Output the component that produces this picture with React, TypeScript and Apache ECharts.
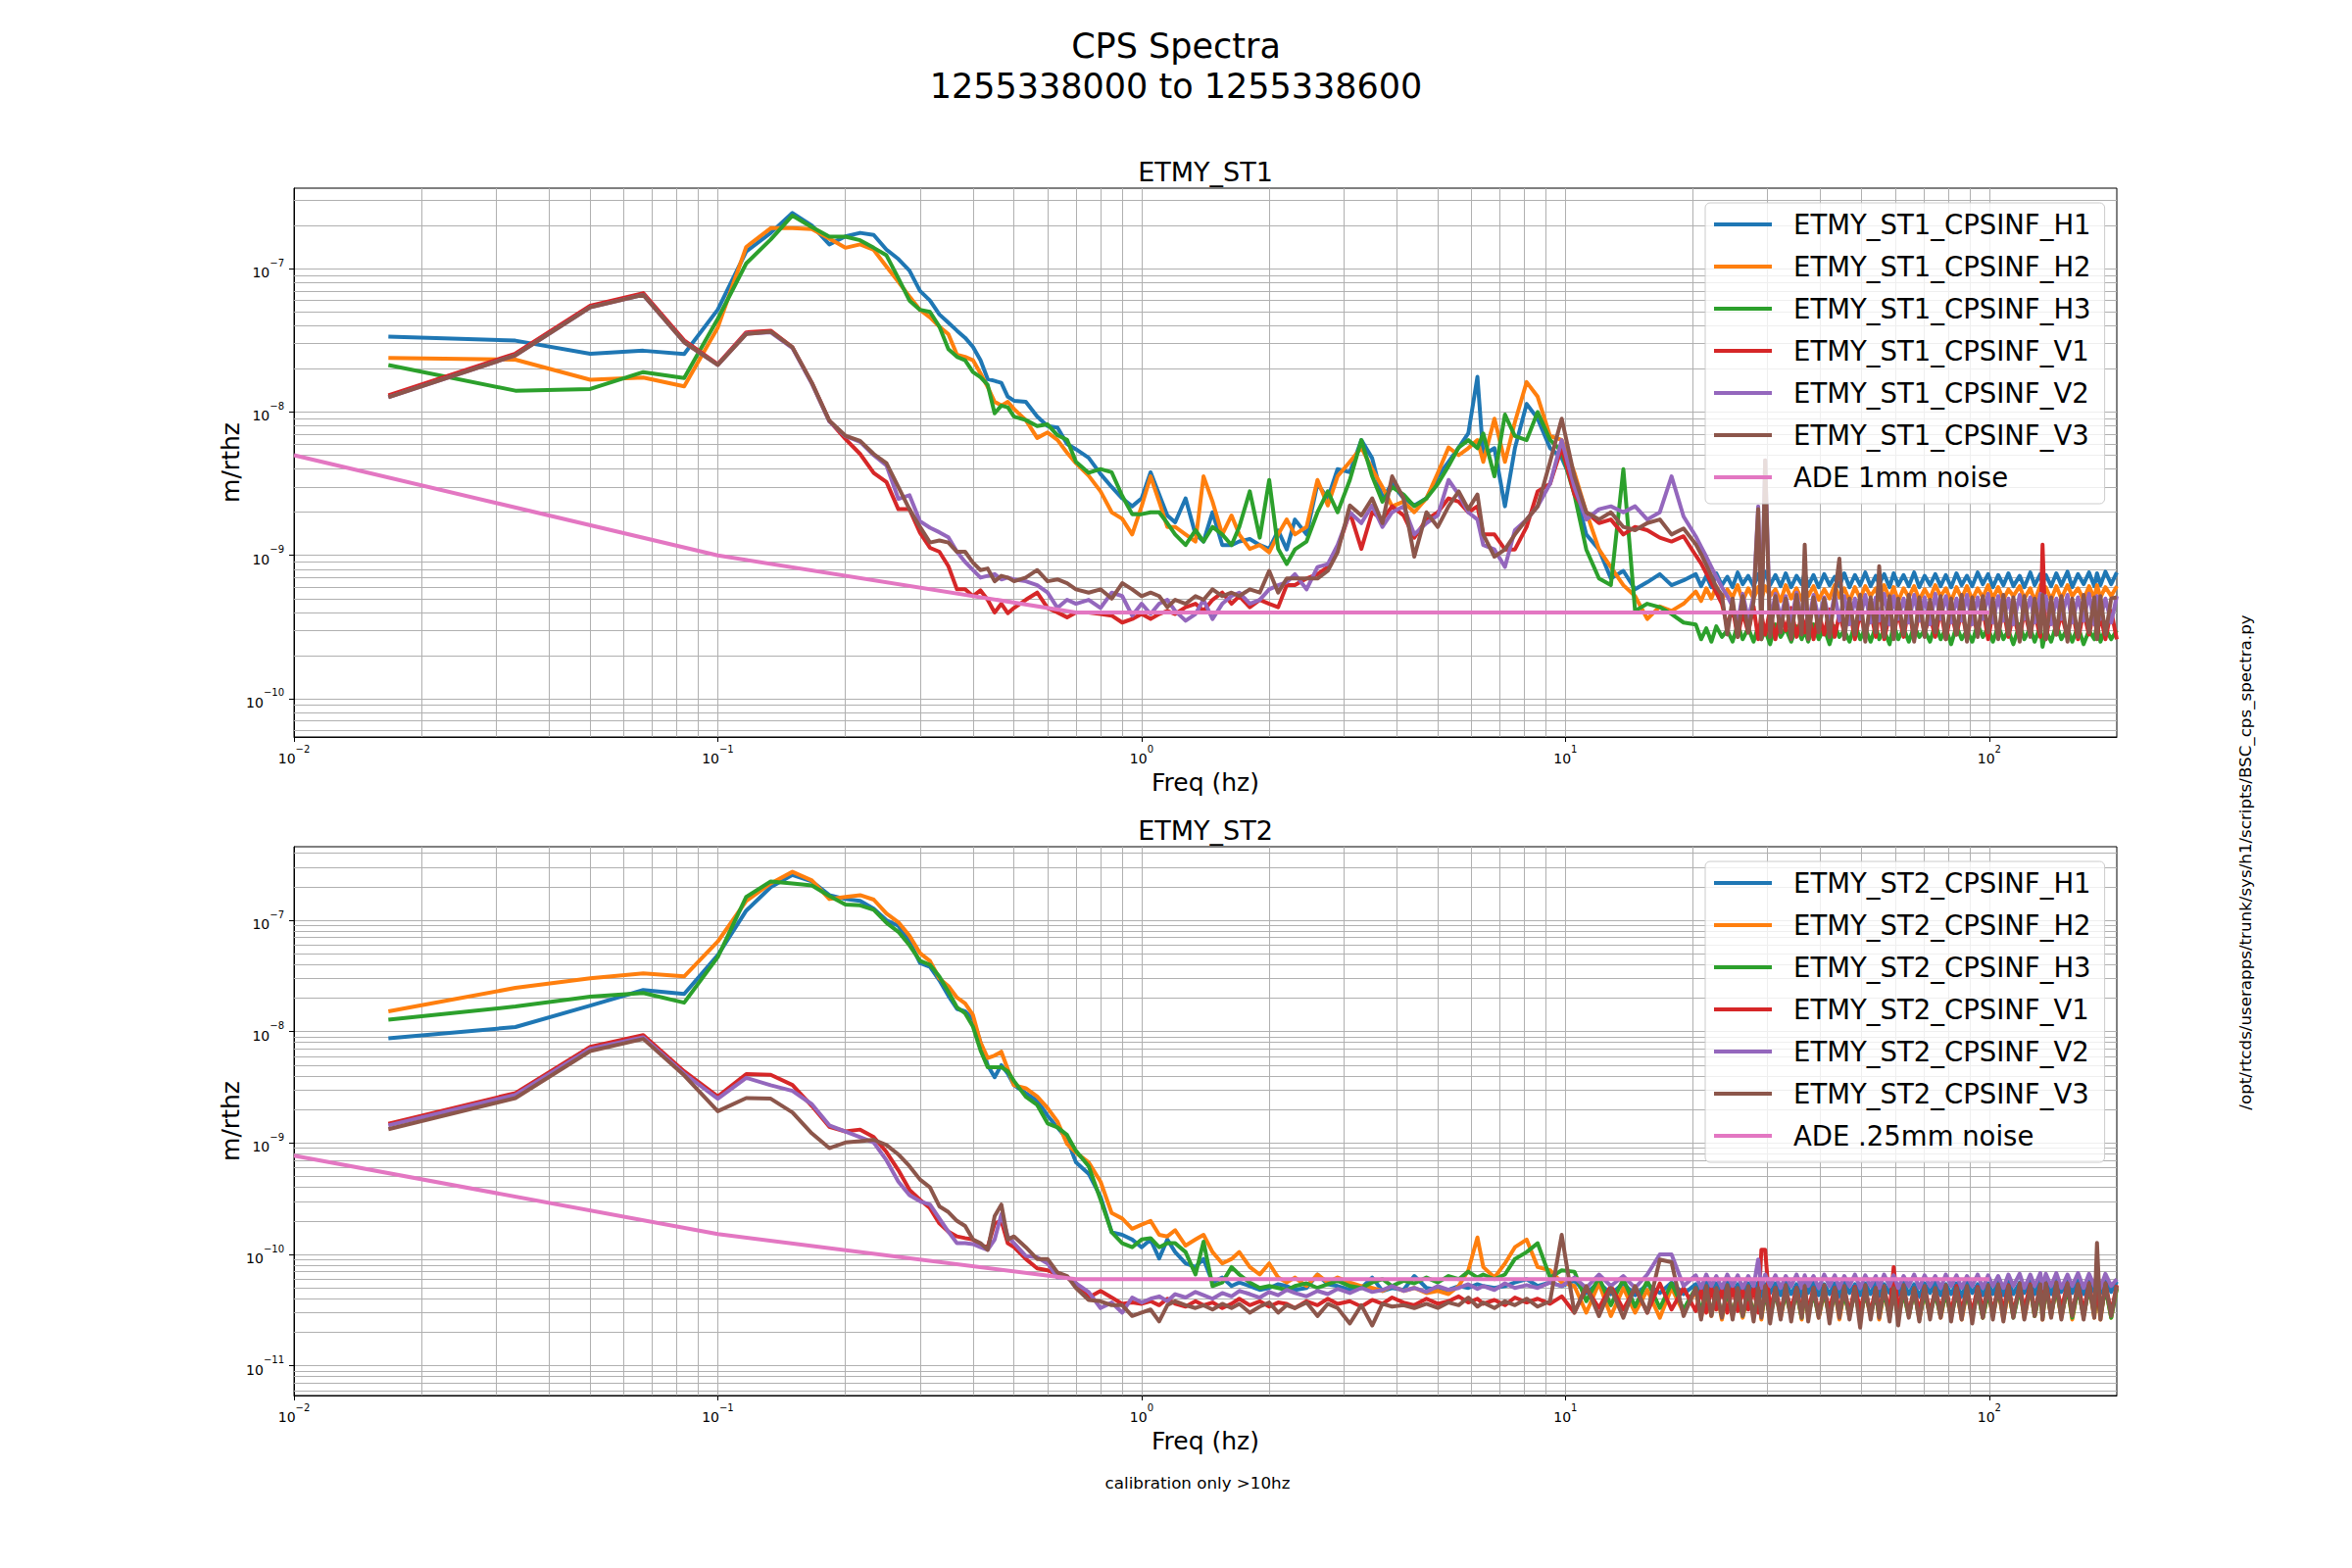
import React, { useEffect, useRef } from "react";
import * as echarts from "echarts";

// ---------------- data (amplitudes in units of 1e-10 m/rthz) ----------------
const UNIT = 1e-10;

// frequency bins (Hz) shared by every CPS trace
const FREQ = [
  0.0167, 0.0333, 0.05, 0.0667, 0.0833, 0.1, 0.1167, 0.1333, 0.15, 0.1667,
  0.1833, 0.2, 0.2167, 0.2333, 0.25, 0.2667, 0.2833, 0.3, 0.3167, 0.3333,
  0.35, 0.3667, 0.3833, 0.4, 0.4167, 0.4333, 0.45, 0.4667, 0.4833, 0.5,
  0.533, 0.567, 0.6, 0.633, 0.667, 0.7, 0.75, 0.8, 0.85, 0.9, 0.95, 1.0,
  1.05, 1.1, 1.15, 1.2, 1.27, 1.34, 1.4, 1.47, 1.55, 1.63,
  1.7, 1.8, 1.9, 2.0, 2.1, 2.2, 2.3, 2.45, 2.6, 2.75,
  2.9, 3.1, 3.3, 3.5, 3.7, 3.9, 4.15, 4.4, 4.7, 5.0,
  5.3, 5.6, 5.9, 6.2, 6.4, 6.8, 7.2, 7.6, 8.1, 8.6,
  9.2, 9.8,
  10.5, 11.2, 12, 12.8, 13.7, 14.6, 15.6, 16.7, 17.8, 19,
  20.3, 20.9, 21.5, 22.1, 22.7, 23.4, 24.1, 24.8, 25.5, 26.2,
  27.0, 27.8, 28.5, 29.0, 29.6, 30.4, 31.3, 32.2, 33.1, 34.1,
  35.1, 36.1, 36.7, 37.4, 38.5, 39.6, 40.8, 42.0, 43.2, 44.3,
  45.5, 46.8, 48.2, 49.6, 51.0, 52.5, 54.0, 55.0, 56.5, 58.2,
  59.5, 61.0, 62.8, 64.6, 66.5, 68.4, 70.4, 72.5, 74.6, 76.8,
  79.0, 81.3, 83.7, 86.1, 88.6, 91.2, 93.9, 96.6, 99.4, 102,
  105, 108, 111, 114, 118, 121, 125, 128, 132, 133.6,
  136, 140, 144, 148, 153, 157, 162, 167, 172, 177,
  179.6, 183, 188, 194, 200,
];

const ST1_H1 = [
  336, 315, 255, 268, 254, 519, 1320, 1780, 2450, 2000,
  1480, 1680, 1780, 1720, 1360, 1170, 970, 700, 600, 480,
  420, 370, 330, 285, 230, 170, 165, 160, 128, 120,
  118, 93, 80, 78, 60, 55, 48, 37, 30, 25, 22, 25,
  38, 26.6, 19, 17, 25, 14, 12.5, 20, 11.8, 11.8,
  12.5, 13, 11.8, 11.1, 14.9, 11, 17.8, 14, 31.6, 25,
  40, 38, 63.7, 47.6, 25, 31.6, 25, 22.3, 25, 35.6,
  45, 56.6, 71, 176, 50, 56, 22, 56, 114, 90,
  56, 48,
  30, 14, 11, 6.9, 7.8, 5.8, 6.5, 7.4, 6.2, 6.7,
  7.4, 6.1, 7.2, 6.0, 7.5, 6.2, 7.1, 6.0, 7.6, 6.3,
  7.2, 6.1, 7.4, 6.0, 7.7, 6.2, 7.3, 6.1, 7.5, 6.0,
  7.2, 6.3, 7.6, 6.1, 7.3, 6.0, 7.4, 6.2, 7.1, 6.1,
  7.5, 6.0, 7.3, 6.2, 7.6, 6.1, 7.2, 6.3, 7.4, 6.0,
  7.5, 6.2, 7.3, 6.1, 7.6, 6.0, 7.2, 6.2, 7.4, 6.1,
  7.3, 6.0, 7.5, 6.2, 7.2, 6.1, 7.6, 6.3, 7.4, 6.0,
  7.3, 6.2, 7.5, 6.1, 7.2, 6.0, 7.6, 6.2, 7.4, 6.4,
  7.3, 6.1, 7.5, 6.2, 7.7, 6.0, 7.4, 6.3, 7.6, 6.1,
  7.5, 6.2, 7.7, 6.3, 7.6,
];
const ST1_H2 = [
  239, 232, 168, 174, 151, 389, 1420, 1920, 1920, 1890,
  1620, 1400, 1480, 1355, 1035, 810, 640, 517, 458, 395,
  350, 251, 243, 230, 186, 150, 118, 111, 118, 105,
  88, 66, 72, 64, 52, 44, 36, 28, 20, 18, 14, 22,
  35.6, 23.7, 15.8, 15.8, 14, 12.5, 35.6, 23.7, 14, 19,
  14, 11.1, 11.8, 10.5, 14, 17.8, 14, 15.8, 33.6, 22.3,
  35.6, 45, 56.6, 40, 30, 22, 23.7, 20, 25, 37.7,
  56.6, 50, 56, 63.7, 45, 90, 45, 85, 162, 128,
  68, 64,
  37.7, 20, 11, 8.3, 6.2, 5.2, 3.6, 4.4, 4.1, 4.6,
  5.6, 4.8, 5.9, 5.0, 6.1, 4.9, 5.8, 5.1, 6.2, 4.8,
  5.9, 5.0, 6.0, 4.9, 6.1, 5.2, 5.8, 4.8, 6.2, 5.0,
  5.9, 4.9, 6.0, 5.2, 6.1, 4.9, 5.8, 5.0, 6.2, 5.1,
  5.9, 4.8, 6.0, 5.0, 6.1, 5.2, 5.9, 4.9, 6.2, 5.0,
  6.0, 4.8, 5.9, 5.1, 6.1, 4.9, 5.8, 5.0, 6.2, 5.2,
  5.9, 4.8, 6.0, 5.0, 6.1, 4.9, 5.9, 5.1, 6.2, 5.0,
  6.0, 4.9, 5.8, 5.2, 6.1, 5.0, 5.9, 4.8, 6.2, 5.1,
  6.0, 4.9, 6.1, 5.0, 6.2, 5.2, 5.9, 4.9, 6.1, 5.0,
  6.2, 5.1, 6.0, 5.2, 6.1,
];
const ST1_H3 = [
  213, 141, 145, 190, 173, 448, 1090, 1600, 2350, 1950,
  1675, 1675, 1580, 1400, 1240, 860, 600, 517, 500, 395,
  275, 243, 230, 190, 175, 155, 98, 111, 108, 93,
  88, 80, 82, 69, 64, 45, 37.7, 40, 38, 26, 19.4, 19.4,
  20, 20, 16.8, 14, 11.8, 15, 12.5, 15.8, 14, 11.8,
  15.8, 28, 13.3, 33.6, 11.1, 8.7, 11, 12.5, 20, 28,
  20, 33.6, 63.7, 35.6, 23.7, 30, 26.6, 22, 25, 31.6,
  42, 56.6, 63.7, 56, 71, 35.6, 96, 68, 63.7, 100,
  64, 53,
  26.6, 11, 6.9, 6.2, 40, 4.1, 4.6, 4.35, 3.9, 3.4,
  3.3, 2.6, 3.1, 2.5, 3.2, 2.7, 3.0, 2.5, 3.3, 2.6,
  3.1, 2.5, 3.2, 2.6, 3.0, 2.4, 3.3, 2.7, 3.1, 2.5,
  3.2, 2.6, 3.0, 2.5, 3.3, 2.6, 3.1, 2.4, 3.2, 2.7,
  3.0, 2.5, 3.3, 2.6, 3.1, 2.5, 3.2, 2.6, 3.0, 2.4,
  3.3, 2.6, 3.1, 2.5, 3.2, 2.7, 3.0, 2.5, 3.3, 2.6,
  3.1, 2.4, 3.2, 2.6, 3.0, 2.5, 3.3, 2.7, 3.1, 2.5,
  3.2, 2.6, 3.0, 2.4, 3.3, 2.6, 3.1, 2.5, 3.2, 2.3,
  3.0, 2.5, 3.3, 2.6, 3.1, 2.5, 3.2, 2.4, 3.0, 2.6,
  3.3, 2.5, 3.1, 2.6, 3.0,
];
const ST1_V1 = [
  131, 256, 553, 676, 316, 216, 360, 370, 283, 160,
  87, 65, 51, 37.6, 32.5, 21, 21, 14.4, 11.3, 10.6,
  8.4, 5.8, 5.8, 5.2, 5.7, 4.9, 4.0, 4.6, 3.95, 4.3,
  4.9, 5.5, 4.3, 4.0, 3.7, 4.0, 4.0, 3.9, 3.8, 3.4, 3.6, 3.9,
  3.6, 3.9, 4.1, 3.9, 4.35, 4.6, 4.1, 4.9, 5.5, 4.6,
  5.2, 4.35, 4.9, 4.6, 4.35, 6.2, 6.2, 6.9, 7.4, 8.3,
  11.1, 20, 11.1, 20, 17.8, 22, 19, 13.3, 17.8, 20,
  25, 23.7, 20, 22, 14, 14, 11, 11, 15.8, 28,
  31.6, 56.6,
  26.6, 20, 16.8, 17.8, 14, 15.8, 15, 13.3, 12.5, 13.6,
  10, 8.8, 7.5, 6.4, 5.5, 4.6, 3.2, 4.3, 2.7, 4.0,
  2.9, 4.4, 2.6, 3.9, 2.8, 4.2, 2.6, 4.0, 3.0, 4.3,
  2.7, 3.8, 2.9, 4.1, 2.6, 4.0, 2.8, 4.2, 2.7, 3.9,
  2.9, 4.3, 2.6, 4.0, 2.8, 4.1, 2.7, 4.2, 2.6, 3.9,
  2.8, 4.0, 2.7, 4.3, 2.6, 4.1, 2.9, 3.8, 2.7, 4.2,
  2.6, 4.0, 2.8, 4.1, 2.7, 3.9, 2.9, 4.3, 2.6, 4.0,
  2.8, 4.2, 2.7, 3.9, 2.6, 4.1, 2.8, 4.0, 2.7, 11.9,
  2.6, 4.2, 2.8, 3.9, 2.7, 4.1, 2.6, 4.0, 2.8, 4.2,
  2.7, 3.9, 2.6, 4.1, 2.6,
];
const ST1_V2 = [
  127, 249, 538, 657, 307, 213, 352, 360, 280, 158,
  86, 68, 62, 50, 42.5, 24.8, 26.3, 17.3, 15.6, 14.5,
  13.4, 10.6, 9.0, 7.9, 7.0, 7.2, 7.4, 6.8, 7.0, 6.8,
  6.6, 6.2, 5.5, 4.3, 4.9, 4.6, 4.9, 4.3, 5.5, 5.2, 3.8, 4.6,
  3.9, 4.6, 4.9, 4.1, 3.5, 3.9, 4.9, 3.6, 4.6, 5.2,
  5.5, 4.6, 4.9, 5.8, 6.2, 6.5, 7.4, 5.8, 8.3, 8.7,
  11.8, 20, 16.8, 22.3, 15.8, 20, 22, 14, 16.8, 19,
  33.6, 26.6, 20, 17.8, 11.8, 11, 8.3, 15, 17.8, 22,
  31.6, 63.7,
  30, 17.8, 21, 22, 20, 22, 17.8, 20, 35.6, 18.7,
  13.6, 11.5, 9.8, 8.3, 7.1, 6.0, 5.2, 4.4, 3.4, 5.4,
  3.6, 5.2, 22, 3.5, 46, 3.3, 5.4, 3.6, 5.2, 3.4,
  5.5, 3.5, 5.0, 3.3, 5.3, 3.6, 5.1, 3.4, 5.4, 3.5,
  5.2, 3.3, 5.0, 3.6, 5.3, 3.4, 5.1, 3.5, 5.4, 3.3,
  5.2, 3.6, 5.0, 3.4, 5.3, 3.5, 5.1, 3.3, 5.4, 3.6,
  5.2, 3.4, 5.0, 3.5, 5.3, 3.3, 5.1, 3.6, 5.4, 3.4,
  5.2, 3.5, 5.0, 3.3, 5.3, 3.6, 5.1, 3.4, 5.4, 3.5,
  5.2, 3.3, 5.0, 3.6, 5.3, 3.4, 5.1, 3.5, 5.4, 3.3,
  5.2, 3.6, 5.0, 3.4, 5.2,
];
const ST1_V3 = [
  127, 249, 538, 657, 307, 213, 350, 364, 283, 160,
  87, 68.5, 63, 51, 44, 30, 21, 15.8, 12.3, 12.7,
  12.3, 10.6, 10.6, 8.9, 7.9, 8.1, 6.6, 7.2, 7.0, 6.6,
  7.0, 7.9, 6.6, 6.8, 6.4, 5.8, 5.5, 5.8, 5.0, 6.4, 5.8, 5.2,
  5.5, 5.2, 4.35, 4.9, 4.6, 5.2, 4.9, 5.8, 5.2, 5.5,
  5.2, 5.8, 5.5, 7.8, 5.5, 6.9, 6.9, 6.9, 6.9, 7.8,
  10.5, 22.3, 19, 25, 16.8, 35.6, 25, 9.8, 20, 15.8,
  22, 28, 21, 26.6, 14, 9.8, 11, 14, 17.8, 22,
  45, 90,
  35.6, 20, 17.8, 20, 15.8, 15, 16.8, 17.8, 14, 15.4,
  12, 10.2, 8.6, 7.2, 6.0, 5.3, 2.8, 5.0, 2.7, 5.2,
  2.9, 4.8, 21, 2.6, 46, 2.7, 5.2, 2.9, 5.0, 2.6,
  5.3, 2.8, 11.9, 2.6, 5.1, 2.9, 5.0, 2.7, 5.2, 9.5,
  2.6, 5.0, 2.8, 5.3, 2.5, 5.1, 2.9, 8.4, 2.7, 5.2,
  2.6, 5.0, 2.8, 5.3, 2.5, 5.1, 2.7, 4.9, 2.9, 5.2,
  2.6, 5.0, 2.8, 5.3, 2.5, 5.1, 2.7, 5.2, 2.9, 5.0,
  2.6, 5.3, 2.8, 5.1, 2.5, 5.2, 2.7, 5.0, 2.9, 5.3,
  2.6, 5.1, 2.8, 5.2, 2.5, 5.0, 2.7, 5.3, 2.9, 5.1,
  2.6, 5.2, 2.8, 5.0, 5.1,
];

const ST2_H1 = [
  87, 110, 171, 236, 218, 486, 1220, 1980, 2550, 2230,
  1680, 1550, 1490, 1270, 1000, 890, 644, 413, 382, 289,
  210, 160, 152, 130, 80, 50, 39, 50, 42, 33,
  28, 24, 17.6, 13.8, 10.9, 6.7, 5.3, 3.3, 1.58, 1.5, 1.36, 1.16,
  1.36, 0.92, 1.36, 1.05, 0.83, 0.77, 0.91, 0.56, 0.62, 0.52,
  0.56, 0.52, 0.48, 0.5, 0.54, 0.52, 0.48, 0.5, 0.66, 0.54,
  0.52, 0.48, 0.5, 0.62, 0.47, 0.5, 0.48, 0.64, 0.5, 0.48,
  0.48, 0.52, 0.5, 0.54, 0.52, 0.5, 0.52, 0.56, 0.6, 0.52,
  0.56, 0.52,
  0.58, 0.45, 0.56, 0.44, 0.55, 0.43, 0.54, 0.45, 0.56, 0.44,
  0.54, 0.43, 0.56, 0.44, 0.55, 0.42, 0.56, 0.45, 0.54, 0.43,
  0.55, 0.44, 0.56, 0.42, 0.54, 0.45, 0.55, 0.43, 0.56, 0.44,
  0.54, 0.42, 0.55, 0.45, 0.56, 0.43, 0.54, 0.44, 0.55, 0.42,
  0.56, 0.45, 0.54, 0.43, 0.55, 0.44, 0.56, 0.42, 0.54, 0.45,
  0.55, 0.43, 0.56, 0.44, 0.54, 0.42, 0.55, 0.45, 0.56, 0.43,
  0.54, 0.44, 0.55, 0.42, 0.56, 0.45, 0.54, 0.43, 0.55, 0.44,
  0.56, 0.43, 0.57, 0.44, 0.56, 0.45, 0.57, 0.44, 0.58, 0.45,
  0.57, 0.44, 0.58, 0.46, 0.57, 0.45, 0.58, 0.44, 0.57, 0.46,
  0.58, 0.45, 0.57, 0.46, 0.57,
];
const ST2_H2 = [
  152, 247, 301, 334, 313, 644, 1490, 2140, 2720, 2280,
  1550, 1620, 1680, 1530, 1150, 960, 727, 506, 430, 300,
  256, 202, 179, 141, 80, 58, 61, 66, 46, 33,
  31, 26.2, 20.6, 15.6, 9.8, 8.2, 6.7, 4.5, 2.35, 2.1, 1.7, 1.85,
  2.0, 1.5, 1.45, 1.65, 1.2, 1.36, 1.5, 1.05, 0.83, 0.91,
  1.05, 0.77, 0.66, 0.83, 0.62, 0.56, 0.62, 0.52, 0.66, 0.56,
  0.62, 0.56, 0.52, 0.5, 0.47, 0.52, 0.47, 0.5, 0.45, 0.47,
  0.44, 0.52, 0.72, 1.42, 0.77, 0.62, 0.83, 1.16, 1.36, 0.77,
  0.72, 0.56,
  0.52, 0.3, 0.55, 0.28, 0.5, 0.3, 0.48, 0.27, 0.5, 0.3,
  0.47, 0.27, 0.45, 0.28, 0.48, 0.26, 0.46, 0.28, 0.47, 0.27,
  0.45, 0.28, 0.48, 0.26, 0.46, 0.28, 0.47, 0.27, 0.45, 0.28,
  0.48, 0.26, 0.46, 0.28, 0.47, 0.27, 0.45, 0.28, 0.48, 0.26,
  0.46, 0.28, 0.47, 0.27, 0.45, 0.28, 0.48, 0.26, 0.46, 0.28,
  0.47, 0.27, 0.45, 0.28, 0.48, 0.26, 0.46, 0.28, 0.47, 0.27,
  0.45, 0.28, 0.48, 0.26, 0.46, 0.28, 0.47, 0.27, 0.45, 0.28,
  0.48, 0.26, 0.46, 0.28, 0.5, 0.27, 0.49, 0.28, 0.5, 0.26,
  0.52, 0.28, 0.5, 0.27, 0.52, 0.26, 0.5, 0.28, 0.52, 0.27,
  0.5, 0.26, 0.52, 0.27, 0.5,
];
const ST2_H3 = [
  128, 168, 206, 222, 182, 467, 1620, 2230, 2140, 2050,
  1650, 1380, 1360, 1240, 950, 787, 596, 433, 398, 312,
  228, 165, 146, 111, 68, 48, 48, 48, 44, 36,
  26, 22, 15, 13.8, 11.8, 8.5, 6.2, 3.1, 1.58, 1.26, 1.16, 1.36,
  1.4, 1.16, 1.26, 1.26, 1.05, 0.66, 1.3, 0.52, 0.56, 0.77,
  0.66, 0.56, 0.5, 0.52, 0.5, 0.48, 0.52, 0.55, 0.5, 0.54,
  0.58, 0.52, 0.5, 0.56, 0.6, 0.52, 0.58, 0.55, 0.62, 0.56,
  0.64, 0.6, 0.7, 0.62, 0.66, 0.6, 0.66, 0.91, 1.05, 1.26,
  0.62, 0.72,
  0.7, 0.38, 0.62, 0.35, 0.6, 0.34, 0.58, 0.33, 0.55, 0.32,
  0.5, 0.3, 0.48, 0.29, 0.47, 0.28, 0.46, 0.29, 0.45, 0.28,
  0.46, 0.29, 0.44, 0.28, 0.46, 0.27, 0.45, 0.29, 0.44, 0.28,
  0.46, 0.27, 0.45, 0.29, 0.44, 0.28, 0.46, 0.27, 0.45, 0.29,
  0.44, 0.28, 0.46, 0.27, 0.45, 0.29, 0.44, 0.28, 0.46, 0.27,
  0.45, 0.29, 0.44, 0.28, 0.46, 0.27, 0.45, 0.29, 0.44, 0.28,
  0.46, 0.27, 0.45, 0.29, 0.44, 0.28, 0.46, 0.27, 0.45, 0.29,
  0.48, 0.28, 0.5, 0.27, 0.49, 0.29, 0.5, 0.28, 0.48, 0.27,
  0.5, 0.29, 0.49, 0.28, 0.5, 0.27, 0.49, 0.28, 0.5, 0.29,
  0.49, 0.28, 0.5, 0.27, 0.49,
];
const ST2_V1 = [
  14.9, 28.1, 73, 93, 44, 26.2, 41.6, 40.9, 33.2, 21.5,
  14, 12.7, 13.2, 11.3, 8.3, 5.7, 3.8, 3.1, 2.6, 1.9,
  1.6, 1.45, 1.4, 1.36, 1.2, 1.16, 1.9, 2.0, 1.26, 1.16,
  0.91, 0.75, 0.72, 0.66, 0.62, 0.55, 0.41, 0.47, 0.41, 0.36, 0.37, 0.36,
  0.38, 0.35, 0.4, 0.36, 0.34, 0.38, 0.35, 0.37, 0.33, 0.36,
  0.4, 0.35, 0.38, 0.34, 0.37, 0.36, 0.33, 0.38, 0.35, 0.4,
  0.36, 0.38, 0.34, 0.39, 0.36, 0.41, 0.37, 0.35, 0.4, 0.36,
  0.38, 0.42, 0.37, 0.4, 0.36, 0.39, 0.35, 0.41, 0.37, 0.4,
  0.36, 0.42,
  0.3, 0.5, 0.33, 0.52, 0.32, 0.5, 0.3, 0.55, 0.32, 0.5,
  0.31, 0.48, 0.3, 0.5, 0.32, 0.49, 0.3, 0.51, 0.31, 0.48,
  0.32, 0.5, 0.3, 1.1, 1.1, 0.31, 0.5, 0.3, 0.48, 0.32,
  0.5, 0.3, 0.49, 0.31, 0.5, 0.3, 0.48, 0.32, 0.5, 0.31,
  0.49, 0.3, 0.51, 0.32, 0.48, 0.3, 0.5, 0.31, 0.49, 0.3,
  0.77, 0.32, 0.5, 0.3, 0.49, 0.31, 0.51, 0.3, 0.48, 0.32,
  0.5, 0.3, 0.52, 0.31, 0.49, 0.3, 0.51, 0.32, 0.5, 0.3,
  0.52, 0.31, 0.53, 0.3, 0.52, 0.32, 0.54, 0.3, 0.53, 0.31,
  0.55, 0.3, 0.54, 0.32, 0.55, 0.29, 0.54, 0.31, 0.55, 0.3,
  0.54, 0.28, 0.55, 0.3, 0.53,
];
const ST2_V2 = [
  14.4, 27, 70, 89, 42, 25, 38.5, 33, 29.4, 22.3,
  14.4, 12.7, 11.3, 10.1, 7.0, 4.5, 3.4, 3.0, 2.8, 2.1,
  1.6, 1.26, 1.26, 1.24, 1.16, 1.1, 1.36, 2.3, 1.45, 1.26,
  0.97, 0.94, 0.83, 0.62, 0.62, 0.55, 0.46, 0.33, 0.37, 0.3, 0.41, 0.37,
  0.4, 0.42, 0.38, 0.44, 0.41, 0.46, 0.43, 0.4, 0.45, 0.42,
  0.47, 0.44, 0.41, 0.46, 0.43, 0.48, 0.45, 0.42, 0.47, 0.44,
  0.49, 0.45, 0.5, 0.46, 0.48, 0.52, 0.47, 0.5, 0.46, 0.52,
  0.48, 0.5, 0.54, 0.49, 0.52, 0.48, 0.55, 0.5, 0.53, 0.5,
  0.56, 0.52,
  0.62, 0.5, 0.66, 0.52, 0.64, 0.5, 0.66, 1.0, 1.0, 0.52,
  0.65, 0.5, 0.66, 0.52, 0.64, 0.5, 0.66, 0.52, 0.65, 0.5,
  0.64, 0.52, 0.9, 0.5, 0.66, 0.52, 0.65, 0.5, 0.64, 0.52,
  0.66, 0.5, 0.65, 0.52, 0.64, 0.5, 0.66, 0.52, 0.65, 0.5,
  0.64, 0.52, 0.66, 0.5, 0.65, 0.52, 0.64, 0.5, 0.66, 0.52,
  0.65, 0.5, 0.64, 0.52, 0.66, 0.5, 0.65, 0.52, 0.64, 0.5,
  0.66, 0.52, 0.65, 0.5, 0.64, 0.52, 0.66, 0.5, 0.65, 0.52,
  0.64, 0.5, 0.66, 0.52, 0.67, 0.5, 0.66, 0.52, 0.68, 0.5,
  0.67, 0.52, 0.68, 0.5, 0.66, 0.52, 0.68, 0.5, 0.67, 0.52,
  0.68, 0.5, 0.67, 0.52, 0.6,
];
const ST2_V3 = [
  13.3, 25.3, 67, 86, 40.5, 19.3, 25.3, 25, 18.8, 12.2,
  9.0, 10.1, 10.4, 10.7, 9.6, 7.9, 6.2, 4.7, 4.0, 2.7,
  2.4, 2.0, 1.8, 1.36, 1.26, 1.1, 2.2, 2.8, 1.36, 1.45,
  1.16, 0.91, 0.91, 0.69, 0.64, 0.5, 0.39, 0.38, 0.35, 0.35, 0.28, 0.3,
  0.32, 0.25, 0.35, 0.38, 0.35, 0.33, 0.35, 0.32, 0.36, 0.33,
  0.36, 0.3, 0.34, 0.37, 0.3, 0.35, 0.33, 0.37, 0.28, 0.36,
  0.33, 0.24, 0.35, 0.23, 0.36, 0.34, 0.35, 0.33, 0.36, 0.33,
  0.37, 0.35, 0.41, 0.34, 0.37, 0.33, 0.38, 0.35, 0.4, 0.34,
  0.38, 1.5,
  0.3, 0.52, 0.28, 0.5, 0.27, 0.52, 0.3, 0.9, 0.85, 0.28,
  0.5, 0.26, 0.52, 0.28, 0.5, 0.27, 0.53, 0.26, 0.5, 0.28,
  0.52, 0.25, 0.5, 0.27, 0.52, 0.24, 0.5, 0.26, 0.53, 0.25,
  0.5, 0.27, 0.52, 0.25, 0.5, 0.27, 0.53, 0.24, 0.5, 0.27,
  0.52, 0.26, 0.5, 0.22, 0.53, 0.26, 0.5, 0.27, 0.52, 0.25,
  0.5, 0.23, 0.53, 0.27, 0.5, 0.25, 0.52, 0.26, 0.5, 0.27,
  0.53, 0.25, 0.5, 0.26, 0.52, 0.24, 0.5, 0.27, 0.53, 0.26,
  0.54, 0.25, 0.52, 0.27, 0.55, 0.26, 0.53, 0.28, 0.54, 0.26,
  0.55, 0.27, 0.56, 0.26, 0.55, 0.28, 0.54, 0.26, 0.55, 0.27,
  1.27, 0.26, 0.55, 0.28, 0.52,
];

// ADE requirement curves
const ADE_FREQ = [0.01, 0.1, 0.7, 100];
const ST1_ADE = [50, 10, 4, 4];
const ST2_ADE = [7.7, 1.52, 0.6, 0.6];

const ST1_NAMES = [
  "ETMY_ST1_CPSINF_H1", "ETMY_ST1_CPSINF_H2", "ETMY_ST1_CPSINF_H3",
  "ETMY_ST1_CPSINF_V1", "ETMY_ST1_CPSINF_V2", "ETMY_ST1_CPSINF_V3", "ADE 1mm noise",
];
const ST2_NAMES = [
  "ETMY_ST2_CPSINF_H1", "ETMY_ST2_CPSINF_H2", "ETMY_ST2_CPSINF_H3",
  "ETMY_ST2_CPSINF_V1", "ETMY_ST2_CPSINF_V2", "ETMY_ST2_CPSINF_V3", "ADE .25mm noise",
];
const PANEL_TITLES = ["ETMY_ST1", "ETMY_ST2"];

// ---------------- layout / style ----------------
const COLORS = ["#1f77b4", "#ff7f0e", "#2ca02c", "#d62728", "#9467bd", "#8c564b", "#e377c2"];
const FONT = "'DejaVu Sans', 'Noto Sans', sans-serif";
const X_MIN = 0.01;
const X_MAX = 200;
const Y_EXT = [
  [5.41e-11, 3.65e-7],
  [5.41e-12, 4.57e-7],
];
const GRID_LEFT = 300;
const GRID_W = 1860;
const GRID_H = 560;
const GRID_TOPS = [192, 864];

function minorValues(lo: number, hi: number): number[] {
  const out: number[] = [];
  const d0 = Math.floor(Math.log10(lo));
  const d1 = Math.ceil(Math.log10(hi));
  for (let d = d0; d <= d1; d++) {
    for (let k = 2; k <= 9; k++) {
      const v = k * Math.pow(10, d);
      if (v > lo * 1.0001 && v < hi * 0.9999) out.push(v);
    }
  }
  return out;
}

const supLabel = (v: number) => {
  const e = Math.round(Math.log10(v));
  return "{b|10}{s|" + (e < 0 ? "\u2212" : "") + Math.abs(e) + "}";
};
const RICH = {
  b: { fontFamily: FONT, fontSize: 14, color: "#000", lineHeight: 22, verticalAlign: "bottom" },
  s: { fontFamily: FONT, fontSize: 10, color: "#000", lineHeight: 22, verticalAlign: "top" },
};

function buildOption() {
  const grids: any[] = [];
  const xAxes: any[] = [];
  const yAxes: any[] = [];
  const series: any[] = [];
  const legends: any[] = [];
  const panels = [
    { names: ST1_NAMES, cps: [ST1_H1, ST1_H2, ST1_H3, ST1_V1, ST1_V2, ST1_V3], ade: ST1_ADE },
    { names: ST2_NAMES, cps: [ST2_H1, ST2_H2, ST2_H3, ST2_V1, ST2_V2, ST2_V3], ade: ST2_ADE },
  ];
  panels.forEach((p, pi) => {
    const [yLo, yHi] = Y_EXT[pi];
    grids.push({
      left: GRID_LEFT, top: GRID_TOPS[pi], width: GRID_W, height: GRID_H,
      show: true, borderColor: "#000", borderWidth: 1, backgroundColor: "transparent",
    });
    xAxes.push({
      type: "log", logBase: 10, gridIndex: pi, min: X_MIN, max: X_MAX,
      axisLine: { show: true, onZero: false, lineStyle: { color: "#000", width: 1 } },
      axisTick: { show: true, length: 5, lineStyle: { color: "#000", width: 1 } },
      axisLabel: { formatter: supLabel, rich: RICH, margin: 7, showMaxLabel: false, showMinLabel: true },
      splitLine: { show: true, showMinLine: false, showMaxLine: false, lineStyle: { color: "#b0b0b0", width: 1 } },
      minorTick: { show: false },
    });
    yAxes.push({
      type: "log", logBase: 10, gridIndex: pi, min: yLo, max: yHi,
      axisLine: { show: true, onZero: false, lineStyle: { color: "#000", width: 1 } },
      axisTick: { show: true, length: 5, lineStyle: { color: "#000", width: 1 } },
      axisLabel: { formatter: supLabel, rich: RICH, margin: 10, showMaxLabel: false, showMinLabel: false },
      splitLine: { show: true, showMinLine: false, showMaxLine: false, lineStyle: { color: "#b0b0b0", width: 1 } },
      minorTick: { show: false },
    });
    // minor grid (2..9 x each decade) drawn through the same axes
    const xs = minorValues(X_MIN, X_MAX);
    const ys = minorValues(yLo, yHi);
    series.push({
      type: "lines", coordinateSystem: "cartesian2d", xAxisIndex: pi, yAxisIndex: pi,
      polyline: false, silent: true, z: 1, animation: false,
      effect: { show: false },
      lineStyle: { color: "#b0b0b0", width: 1, opacity: 1, curveness: 0 },
      data: [
        ...xs.map((v) => ({ coords: [[v, yLo], [v, yHi]] })),
        ...ys.map((v) => ({ coords: [[X_MIN, v], [X_MAX, v]] })),
      ],
    });
    p.cps.forEach((vals, i) => {
      series.push({
        type: "line", name: p.names[i], xAxisIndex: pi, yAxisIndex: pi,
        data: FREQ.map((f, j) => [f, vals[j] * UNIT]),
        showSymbol: false, symbol: "none", silent: true, z: 3,
        color: COLORS[i],
        lineStyle: { width: 4, color: COLORS[i], join: "round" },
        emphasis: { disabled: true },
      });
    });
    series.push({
      type: "line", name: p.names[6], xAxisIndex: pi, yAxisIndex: pi,
      data: ADE_FREQ.map((f, j) => [f, p.ade[j] * UNIT]),
      showSymbol: false, symbol: "none", silent: true, z: 3,
      color: COLORS[6],
      lineStyle: { width: 4, color: COLORS[6] },
      emphasis: { disabled: true },
    });
    legends.push({
      orient: "vertical", left: 1740, top: GRID_TOPS[pi] + 15,
      padding: [6, 14, 11, 9], itemGap: 11, itemWidth: 76, itemHeight: 4,
      icon: "path://M0,0L59,0L59,4L0,4Z M76,0",
      selectedMode: false,
      backgroundColor: "rgba(255,255,255,0.8)", borderColor: "#cccccc", borderWidth: 1, borderRadius: 5,
      textStyle: { fontFamily: FONT, fontSize: 27.5, color: "#000", lineHeight: 32 },
      itemStyle: { borderWidth: 0 },
      data: p.names.map((n, i) => ({ name: n, itemStyle: { color: COLORS[i], borderWidth: 0 } })),
    });
  });

  const txt = (text: string, x: number, y: number, size: number, rot = 0) => ({
    type: "text", x, y, rotation: rot, silent: true,
    style: { text, fontFamily: FONT, fontSize: size, fill: "#000", align: "center", verticalAlign: "middle" },
  });
  const graphic = [
    txt("CPS Spectra", 1200, 47, 35),
    txt("1255338000 to 1255338600", 1200, 88, 35),
    txt(PANEL_TITLES[0], 1230, 175, 27),
    txt(PANEL_TITLES[1], 1230, 847, 27),
    txt("Freq (hz)", 1230, 798, 25),
    txt("Freq (hz)", 1230, 1470, 25),
    txt("m/rthz", 235, 472, 25, Math.PI / 2),
    txt("m/rthz", 235, 1144, 25, Math.PI / 2),
    txt("/opt/rtcds/userapps/trunk/sys/h1/scripts/BSC_cps_spectra.py", 2291, 880, 16.7, Math.PI / 2),
    txt("calibration only >10hz", 1222, 1513, 16.7),
  ];

  return {
    animation: false,
    backgroundColor: "#ffffff",
    textStyle: { fontFamily: FONT },
    grid: grids,
    xAxis: xAxes,
    yAxis: yAxes,
    legend: legends,
    series,
    graphic,
  };
}

export default function App() {
  const ref = useRef<HTMLDivElement>(null);
  useEffect(() => {
    if (!ref.current) return;
    const chart = echarts.init(ref.current, undefined, { renderer: "svg", width: 2400, height: 1600 });
    chart.setOption(buildOption() as any);
    return () => chart.dispose();
  }, []);
  return (
    <div
      ref={ref}
      style={{ position: "absolute", left: 0, top: 0, width: 2400, height: 1600, background: "#fff" }}
    />
  );
}
